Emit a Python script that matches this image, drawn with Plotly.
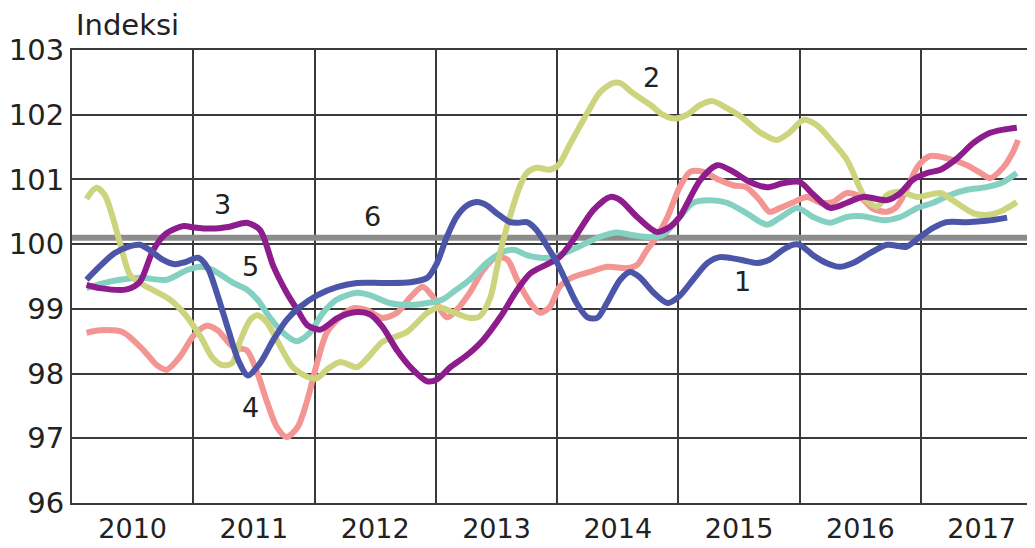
import plotly.graph_objects as go

# ---- data (decimal years, index values) ----
years = [2010, 2011, 2012, 2013, 2014, 2015, 2016, 2017]
year_labels = [str(y) for y in years]
year_lines = [2011, 2012, 2013, 2014, 2015, 2016, 2017]
x_range = [2010.0, 2017.94]
y_range = [96, 103]
y_ticks = [96, 97, 98, 99, 100, 101, 102, 103]

s1_x = [2010.12, 2010.23, 2010.35, 2010.48, 2010.56, 2010.64, 2010.74, 2010.85, 2010.93, 2011.04,
        2011.12, 2011.20, 2011.29, 2011.37, 2011.45, 2011.55, 2011.66, 2011.77, 2011.88, 2012.02,
        2012.19, 2012.35, 2012.56, 2012.79, 2012.93, 2013.01, 2013.09, 2013.17, 2013.26, 2013.34,
        2013.42, 2013.50, 2013.61, 2013.68, 2013.75, 2013.83, 2013.92, 2014.00, 2014.08, 2014.16,
        2014.25, 2014.33, 2014.41, 2014.52, 2014.60, 2014.68, 2014.79, 2014.91, 2015.01, 2015.12,
        2015.24, 2015.34, 2015.51, 2015.65, 2015.75, 2015.86, 2015.94, 2016.00, 2016.11, 2016.22,
        2016.33, 2016.44, 2016.58, 2016.72, 2016.88, 2016.99, 2017.10, 2017.21, 2017.38, 2017.54,
        2017.71]
s1_y = [99.45, 99.66, 99.86, 99.97, 99.99, 99.91, 99.77, 99.69, 99.72, 99.79,
        99.63, 99.21, 98.67, 98.21, 97.97, 98.16, 98.52, 98.83, 99.03, 99.21,
        99.34, 99.40, 99.40, 99.41, 99.48, 99.71, 100.11, 100.42, 100.60, 100.65,
        100.60, 100.48, 100.34, 100.33, 100.34, 100.22, 99.96, 99.71, 99.40, 99.09,
        98.87, 98.86, 99.09, 99.45, 99.57, 99.49, 99.26, 99.09, 99.20, 99.45,
        99.71, 99.80, 99.76, 99.71, 99.76, 99.91, 99.99, 99.99, 99.83, 99.71,
        99.65, 99.71, 99.86, 99.99, 99.96, 100.11, 100.25, 100.34, 100.34, 100.36,
        100.41]

s2_x = [2010.12, 2010.20, 2010.27, 2010.33, 2010.40, 2010.48, 2010.59, 2010.81, 2010.92, 2011.06,
        2011.16, 2011.24, 2011.32, 2011.39, 2011.47, 2011.53, 2011.61, 2011.72, 2011.82, 2011.94,
        2012.02, 2012.10, 2012.21, 2012.35, 2012.46, 2012.56, 2012.76, 2012.93, 2013.03, 2013.14,
        2013.28, 2013.36, 2013.45, 2013.50, 2013.55, 2013.61, 2013.69, 2013.75, 2013.83, 2013.94,
        2014.01, 2014.11, 2014.25, 2014.35, 2014.46, 2014.52, 2014.62, 2014.77, 2014.87, 2014.97,
        2015.07, 2015.18, 2015.28, 2015.40, 2015.53, 2015.67, 2015.81, 2015.92, 2016.03, 2016.14,
        2016.27, 2016.39, 2016.55, 2016.64, 2016.72, 2016.83, 2016.97, 2017.16, 2017.26, 2017.43,
        2017.54, 2017.65, 2017.79]
s2_y = [100.70, 100.87, 100.76, 100.45, 99.99, 99.52, 99.37, 99.14, 98.94, 98.57,
        98.24, 98.13, 98.16, 98.52, 98.83, 98.90, 98.78, 98.41, 98.10, 97.95,
        97.93, 98.06, 98.18, 98.10, 98.29, 98.49, 98.64, 98.94, 99.02, 98.95,
        98.86, 98.88, 99.18, 99.60, 100.02, 100.42, 100.88, 101.10, 101.18, 101.15,
        101.22, 101.56, 102.03, 102.34, 102.49, 102.49, 102.34, 102.15, 102.00, 101.94,
        102.00, 102.15, 102.21, 102.10, 101.95, 101.73, 101.61, 101.73, 101.92, 101.84,
        101.58, 101.30, 100.68, 100.58, 100.76, 100.81, 100.73, 100.79, 100.68, 100.48,
        100.45, 100.50, 100.65]

s3_x = [2010.12, 2010.23, 2010.45, 2010.56, 2010.67, 2010.78, 2010.92, 2011.00, 2011.14, 2011.30,
        2011.44, 2011.55, 2011.66, 2011.77, 2011.86, 2011.94, 2012.05, 2012.19, 2012.35, 2012.46,
        2012.56, 2012.68, 2012.79, 2012.93, 2013.01, 2013.12, 2013.26, 2013.39, 2013.53, 2013.67,
        2013.78, 2013.94, 2014.02, 2014.13, 2014.30, 2014.44, 2014.52, 2014.66, 2014.82, 2014.93,
        2015.01, 2015.18, 2015.32, 2015.45, 2015.59, 2015.73, 2015.86, 2016.00, 2016.11, 2016.25,
        2016.39, 2016.52, 2016.72, 2016.83, 2016.93, 2017.05, 2017.16, 2017.30, 2017.43, 2017.57,
        2017.68, 2017.79]
s3_y = [99.37, 99.32, 99.30, 99.42, 99.91, 100.17, 100.28, 100.26, 100.24, 100.27,
        100.33, 100.22, 99.66, 99.25, 98.98, 98.75, 98.68, 98.86, 98.95, 98.91,
        98.72, 98.36, 98.10, 97.88, 97.91, 98.10, 98.29, 98.52, 98.87, 99.29,
        99.55, 99.71, 99.80, 100.06, 100.53, 100.73, 100.68, 100.42, 100.19, 100.27,
        100.42, 100.99, 101.22, 101.12, 100.96, 100.88, 100.94, 100.96, 100.77, 100.56,
        100.64, 100.73, 100.68, 100.79, 100.99, 101.10, 101.15, 101.33, 101.56, 101.72,
        101.77, 101.80]

s4_x = [2010.12, 2010.23, 2010.42, 2010.59, 2010.70, 2010.78, 2010.89, 2011.00, 2011.11, 2011.20,
        2011.33, 2011.44, 2011.53, 2011.61, 2011.69, 2011.77, 2011.86, 2011.94, 2012.02, 2012.10,
        2012.21, 2012.32, 2012.43, 2012.56, 2012.68, 2012.79, 2012.89, 2012.97, 2013.09, 2013.17,
        2013.28, 2013.39, 2013.50, 2013.59, 2013.67, 2013.78, 2013.86, 2013.94, 2014.02, 2014.13,
        2014.27, 2014.41, 2014.58, 2014.66, 2014.74, 2014.82, 2014.91, 2015.01, 2015.10, 2015.20,
        2015.34, 2015.45, 2015.56, 2015.67, 2015.75, 2015.84, 2015.94, 2016.06, 2016.17, 2016.27,
        2016.39, 2016.50, 2016.60, 2016.72, 2016.80, 2016.88, 2016.97, 2017.07, 2017.21, 2017.38,
        2017.49, 2017.57, 2017.68, 2017.76, 2017.80]
s4_y = [98.63, 98.67, 98.64, 98.36, 98.13, 98.06, 98.26, 98.58, 98.74, 98.67,
        98.41, 98.36, 98.00, 97.55, 97.17, 97.02, 97.17, 97.59, 98.16, 98.63,
        98.87, 99.01, 98.98, 98.86, 98.94, 99.18, 99.34, 99.20, 98.87, 98.98,
        99.25, 99.60, 99.80, 99.76, 99.45, 99.09, 98.94, 99.03, 99.34, 99.49,
        99.57, 99.65, 99.63, 99.68, 99.91, 100.11, 100.42, 100.88, 101.12, 101.12,
        100.99, 100.91, 100.88, 100.68, 100.50, 100.56, 100.64, 100.73, 100.64, 100.65,
        100.79, 100.73, 100.55, 100.50, 100.58, 100.84, 101.19, 101.36, 101.33, 101.22,
        101.10, 101.02, 101.19, 101.43, 101.61]

s5_x = [2010.12, 2010.31, 2010.56, 2010.78, 2010.95, 2011.06, 2011.16, 2011.33, 2011.44, 2011.53,
        2011.63, 2011.74, 2011.85, 2011.96, 2012.07, 2012.18, 2012.35, 2012.46, 2012.62, 2012.79,
        2012.93, 2013.06, 2013.15, 2013.28, 2013.42, 2013.55, 2013.65, 2013.75, 2013.86, 2013.97,
        2014.08, 2014.21, 2014.35, 2014.49, 2014.62, 2014.77, 2014.87, 2015.01, 2015.12, 2015.26,
        2015.40, 2015.56, 2015.73, 2015.84, 2015.98, 2016.11, 2016.25, 2016.39, 2016.52, 2016.69,
        2016.83, 2016.97, 2017.10, 2017.24, 2017.38, 2017.54, 2017.68, 2017.79]
s5_y = [99.32, 99.42, 99.48, 99.45, 99.60, 99.65, 99.60, 99.40, 99.30, 99.14,
        98.87, 98.63, 98.50, 98.63, 98.94, 99.14, 99.25, 99.21, 99.09, 99.06,
        99.09, 99.15, 99.27, 99.45, 99.71, 99.88, 99.91, 99.83, 99.79, 99.80,
        99.88, 99.99, 100.11, 100.18, 100.14, 100.11, 100.14, 100.42, 100.64, 100.68,
        100.64, 100.48, 100.30, 100.41, 100.56, 100.42, 100.33, 100.42, 100.43, 100.37,
        100.42, 100.56, 100.64, 100.76, 100.84, 100.88, 100.96, 101.10]

s6_value = 100.1

series_names = ["1", "2", "3", "4", "5", "6"]
label_x = [2015.53, 2014.78, 2011.24, 2011.47, 2011.47, 2012.48]
label_y = [99.42, 102.57, 100.61, 97.47, 99.65, 100.42]

# ---- styles ----
colors = {"1": "#4b56a8", "2": "#cdd47e", "3": "#8e1c8c", "4": "#f39592", "5": "#84d0c1", "6": "#8c8c8c"}
FONT = "DejaVu Sans"
TXT = "#222222"
GRID = "#3a3a3a"

fig = go.Figure()

fig.add_trace(go.Scatter(x=x_range, y=[s6_value, s6_value], mode="lines",
                         line=dict(color=colors["6"], width=6), name="6", hoverinfo="skip"))

order = [("4", s4_x, s4_y), ("5", s5_x, s5_y), ("2", s2_x, s2_y), ("3", s3_x, s3_y), ("1", s1_x, s1_y)]
for name, xs, ys in order:
    fig.add_trace(go.Scatter(x=xs, y=ys, mode="lines", name=name,
                             line=dict(color=colors[name], width=6, shape="spline", smoothing=0.8)))

for name, lx, ly in zip(series_names, label_x, label_y):
    fig.add_annotation(x=lx, y=ly, xref="x", yref="y", text=name, showarrow=False,
                       font=dict(family=FONT, size=27, color=TXT))

fig.add_annotation(x=0.0, y=1.0, xref="paper", yref="paper", text="Indeksi",
                   showarrow=False, xanchor="left", yanchor="bottom", xshift=2, yshift=6,
                   font=dict(family=FONT, size=29, color=TXT))

# the page body adds an 8px offset; size the figure so the plot lands where the reference has it
fig.update_layout(
    width=1027, height=540,
    margin=dict(l=64, r=0, t=42, b=45, autoexpand=False),
    paper_bgcolor="white", plot_bgcolor="white",
    showlegend=False,
    font=dict(family=FONT, color=TXT),
    xaxis=dict(
        range=x_range,
        automargin=False,
        tickmode="array",
        tickvals=[y + 0.5 for y in years],
        ticktext=year_labels,
        showgrid=False,
        ticks="",
        ticklabelstandoff=1,
        tickfont=dict(family=FONT, size=27, color=TXT),
        showline=True, linecolor=GRID, linewidth=2, mirror=True,
        zeroline=False,
        minor=dict(tickmode="array", tickvals=year_lines, showgrid=True,
                   gridcolor=GRID, gridwidth=2, ticks=""),
    ),
    yaxis=dict(
        range=y_range,
        automargin=False,
        tickmode="array",
        tickvals=y_ticks,
        ticktext=[str(v) for v in y_ticks],
        showgrid=True, gridcolor=GRID, gridwidth=2,
        ticks="",
        ticklabelstandoff=0,
        tickfont=dict(family=FONT, size=29, color=TXT),
        showline=True, linecolor=GRID, linewidth=2,
        zeroline=False,
    ),
)

fig.write_html("out.html")
